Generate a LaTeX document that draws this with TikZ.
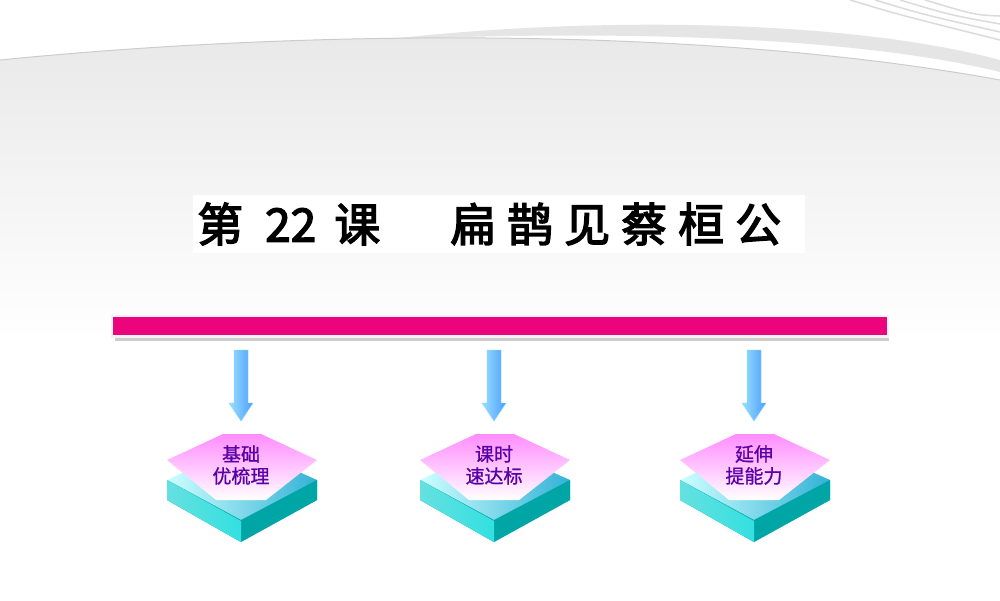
\documentclass[tikz,border=0pt]{standalone}
\usepackage{fontspec}
\newfontfamily\cjk[FakeBold=1]{Noto Sans CJK SC}
\newfontfamily\cjkb[FakeBold=3]{Noto Sans CJK SC}
\usetikzlibrary{shadings}
\begin{document}
\begin{tikzpicture}[x=1pt,y=-1pt,
  lbl/.style={font=\cjk\fontsize{19}{22}\selectfont, text=violet!70!blue, align=center, inner sep=0pt}]
\useasboundingbox (0,0) rectangle (1000,600);
\fill[white] (0,0) rectangle (1000,600);
% swoosh background
\shade[top color=black!9, bottom color=white] (0,60) .. controls (300,30) and (700,25) .. (1000,80) -- (1000,340) -- (0,340) -- cycle;
\fill[black!10] (380,40) .. controls (600,15) and (850,20) .. (1000,60) -- (1000,72) .. controls (850,35) and (600,30) .. (380,40) -- cycle;
\draw[black!20, line width=1pt] (0,60) .. controls (300,30) and (700,25) .. (1000,80);
\foreach \i in {0,1,2,3} \draw[black!14, line width=1.5pt] (850+\i*25,0) .. controls (900+\i*25,15) .. (1000,40+\i*-8);
% title
\fill[white] (193,195) rectangle (805,253);
\node[inner sep=0pt, anchor=west, font=\cjkb\fontsize{46}{50}\selectfont] (title) at (197,224)
  {第\hspace{22pt}22\hspace{18pt}课\hspace{70pt}扁\hspace{11pt}鹊\hspace{11pt}见\hspace{11pt}蔡\hspace{11pt}桓\hspace{11pt}公};
% bar
\fill[black!20] (115,334) rectangle (889,341);
\fill[black!5] (111,315) rectangle (889,338);
\fill[magenta!85!red] (113,317) rectangle (887,335);
% stacks
\foreach \cx/\a/\b/\n in {241/基础/优梳理/s1, 494/课时/速达标/s2, 754/延伸/提能力/s3}{
  \shade[left color=cyan!20!white, right color=cyan!70!blue!60!teal!80, draw=none]
    (\cx-74,480) -- (\cx,446) -- (\cx+76,480) -- (\cx+76,500) -- (\cx,542) -- (\cx-74,500) -- cycle;
  \fill[teal!70!cyan] (\cx-74,480) -- (\cx,520) -- (\cx+76,480) -- (\cx+76,500) -- (\cx,542) -- (\cx-74,500) -- cycle;
  \shade[left color=cyan!60!teal!60, right color=cyan!70!teal!80] (\cx-74,480) -- (\cx,521) -- (\cx,542) -- (\cx-74,500) -- cycle;
  \shade[top color=magenta!45!white, bottom color=white] (\cx-74,460) -- (\cx-18,434) -- (\cx+20,434) -- (\cx+76,460) -- (\cx+25,500) -- (\cx-25,500) -- cycle;
  \node[lbl] (\n) at (\cx,465) {\a\\\b};
  % arrow
  \shade[left color=blue!30!cyan!40, right color=blue!55!cyan!70, draw=blue!30!cyan!50]
    (\cx-7,350) -- (\cx+7,350) -- (\cx+7,403) -- (\cx+12,403) -- (\cx,421) -- (\cx-12,403) -- (\cx-7,403) -- cycle;
  \coordinate (\n t) at (\cx,421);
}
\end{tikzpicture}
\end{document}
